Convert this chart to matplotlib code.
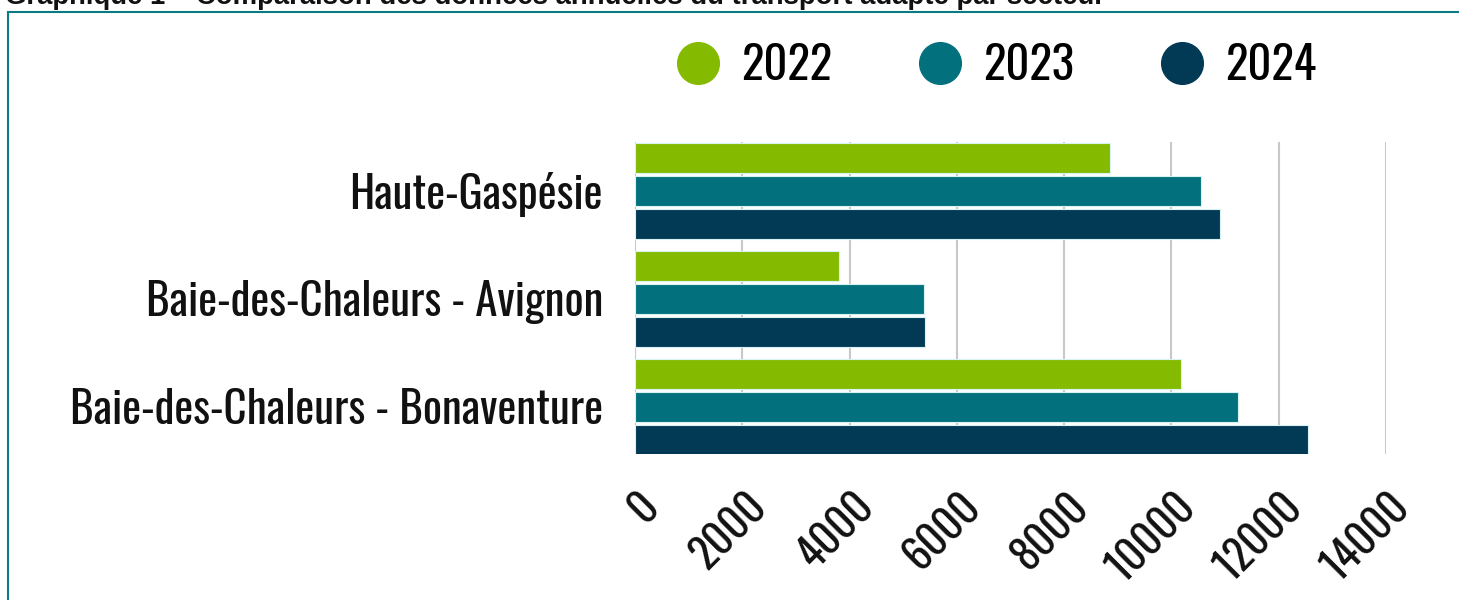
import matplotlib
matplotlib.use("Agg")
import matplotlib.pyplot as plt
import matplotlib.transforms as mtransforms
from matplotlib.lines import Line2D
from matplotlib.patches import Rectangle
import numpy as np

# ---- data ----
categories = ["Haute-Gaspésie", "Baie-des-Chaleurs - Avignon", "Baie-des-Chaleurs - Bonaventure"]
years = ["2022", "2023", "2024"]
values_2022 = [8850, 3810, 10180]
values_2023 = [10560, 5390, 11250]
values_2024 = [10900, 5410, 12550]
xticks = [0, 2000, 4000, 6000, 8000, 10000, 12000, 14000]
xtick_labels = ["0", "2000", "4000", "6000", "8000", "10000", "12000", "14000"]
title = "Graphique 1 – Comparaison des données annuelles du transport adapté par secteur"

colors = ["#84BA00", "#03717D", "#023A56"]
series = [values_2022, values_2023, values_2024]

FONT = "Oswald"

fig = plt.figure(figsize=(14.59, 6), dpi=100)

# title (partly cut at top, as in the reference) and frame
fig.text(0.0035, 1 - 3.5 / 600, title, fontsize=19.8, fontweight="bold",
         family="Liberation Sans", color="#111111", ha="left", va="baseline")
frame = Rectangle((8.3 / 1459, -0.1), 1.2, 1 - 11.7 / 600 + 0.1, transform=fig.transFigure,
                  fill=False, edgecolor="#0B7A85", linewidth=1.5, zorder=0)
fig.patches.append(frame)

ax = fig.add_axes([635 / 1459, 1 - 454 / 600, 751 / 1459, 312 / 600])

y = np.arange(len(categories))
step = 33 / 108
bar_h = 30 / 108
for i, (vals, col, yr) in enumerate(zip(series, colors, years)):
    ax.barh(y + (i - 1) * step, vals, height=bar_h, color=col, edgecolor="#D8F2F2",
            linewidth=0.8, zorder=3, label=yr)

ax.set_xlim(0, 14000)
ax.set_ylim(2 + 47.5 / 108, -48.5 / 108)
ax.set_yticks(y)
ax.set_yticklabels(categories, family=FONT, fontsize=32.4, color="#111111")
ax.tick_params(axis="y", length=0, pad=23)

ax.set_xticks(xticks)
ax.set_xticklabels(xtick_labels, family=FONT, fontweight="bold", fontsize=31,
                   rotation=45, ha="right", va="center", rotation_mode="anchor",
                   color="#111111")
ax.tick_params(axis="x", length=0, pad=33)
offset = mtransforms.ScaledTranslation(0.17, 0, fig.dpi_scale_trans)
for lab in ax.get_xticklabels():
    lab.set_transform(lab.get_transform() + offset)

ax.grid(axis="x", color="#C8C8C8", linewidth=1.5, zorder=0)
ax.set_axisbelow(True)
for s in ax.spines.values():
    s.set_visible(False)

handles = [Line2D([], [], marker="o", linestyle="", markersize=30, color=c,
                  markeredgecolor=c) for c in colors]
leg = fig.legend(handles, years, ncol=3, loc="center",
                 bbox_to_anchor=(995.5 / 1459, 1 - 65 / 600), frameon=False,
                 prop={"family": FONT, "size": 33.6},
                 handletextpad=0.43, columnspacing=1.8, handlelength=1.0)

fig.savefig("out.png", dpi=100)
